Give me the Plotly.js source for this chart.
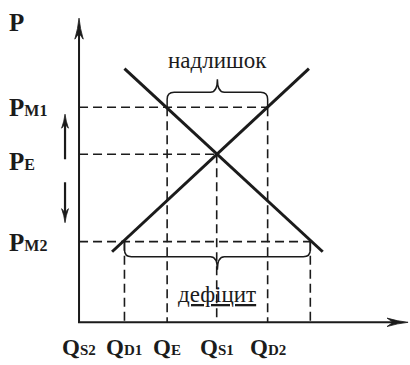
<!DOCTYPE html>
<html>
<head>
<meta charset="utf-8">
<script src="https://cdn.plot.ly/plotly-3.0.1.min.js"></script>
</head>
<body style="margin:0;background:#fff">
<div id="chart"></div>
<script>
// Price levels: market price above equilibrium, equilibrium, market price below
const priceNames  = ['PM1', 'PE', 'PM2'];
const priceValues = [12.8, 10, 4.8];
const priceLabels = [
  '<b>P<span style="font-size:16px">M1</span></b>',
  '<b>P<span style="font-size:16px">E</span></b>',
  '<b>P<span style="font-size:16px">M2</span></b>'
];

// Demand and supply curves (quantity, price) end points
const demandQ = [3.3, 17.7];
const demandP = [15.1, 4.2];
const supplyQ = [2.4, 16.7];
const supplyP = [4.2, 15.1];

// Quantities where each price level meets demand and supply (PM1, PE, PM2)
const demandQAtPrice = [6.4, 10, 16.8];
const supplyQAtPrice = [13.7, 10, 3.3];

// Quantity axis labels
const qTickValues = [0, supplyQAtPrice[2], demandQAtPrice[0], demandQAtPrice[1], supplyQAtPrice[0]];
const qTickLabels = [
  '<b>Q<span style="font-size:15px">S2</span></b>',
  '<b>Q<span style="font-size:15px">D1</span></b>',
  '<b>Q<span style="font-size:15px">E</span></b>',
  '<b>Q<span style="font-size:15px">S1</span></b>',
  '<b>Q<span style="font-size:15px">D2</span></b>'
];

const surplusText  = 'надлишок';
const shortageText = '<u>дефіцит</u>';

// ---- geometry of the drawing area ----
const W = 410, H = 365;
const xRange = [-5.74, 24.04];
const yRange = [-2.54, 19.18];
const kx = W / (xRange[1] - xRange[0]);   // px per quantity unit
const ky = H / (yRange[1] - yRange[0]);   // px per price unit
const axisEndQ = 23.9;
const axisTopP = 18.1;

const INK = '#1b1b1b';

// ---- traces ----
const traces = [];

// axes
traces.push({
  x: [0, 0, axisEndQ - 10 / kx],
  y: [axisTopP - 10 / ky, 0, 0],
  mode: 'lines', line: { color: INK, width: 2 }, hoverinfo: 'skip'
});

// dashed guide lines for every price level
const dx = [], dy = [];
priceValues.forEach((p, i) => {
  const qd = demandQAtPrice[i], qs = supplyQAtPrice[i];
  dx.push(0, Math.max(qd, qs), null); dy.push(p, p, null);
  dx.push(qd, qd, null); dy.push(p, 0, null);
  if (qs !== qd) { dx.push(qs, qs, null); dy.push(p, 0, null); }
});
traces.push({
  x: dx, y: dy, mode: 'lines', connectgaps: false,
  line: { color: INK, width: 1.6, dash: '9px,5px' }, hoverinfo: 'skip'
});

// demand and supply
traces.push({ x: demandQ, y: demandP, mode: 'lines', line: { color: INK, width: 3 }, hoverinfo: 'skip' });
traces.push({ x: supplyQ, y: supplyP, mode: 'lines', line: { color: INK, width: 3 }, hoverinfo: 'skip' });

// ---- shapes ----
const shapes = [];

// narrow barbed arrow head, tip at (q, p); drawn in pixel units
function arrowHead(q, p, dir, len, hw, notch) {
  const rot = {
    up:    ([x, y]) => [x, y],
    down:  ([x, y]) => [x, -y],
    right: ([x, y]) => [y, -x]
  }[dir];
  const pt = (x, y) => rot([x, y]).map(v => v.toFixed(2)).join(',');
  const path =
    'M' + pt(0, 0) +
    ' Q' + pt(-hw * 0.25, -len * 0.5) + ' ' + pt(-hw, -len) +
    ' L' + pt(0, -notch) +
    ' L' + pt(hw, -len) +
    ' Q' + pt(hw * 0.25, -len * 0.5) + ' ' + pt(0, 0) + ' Z';
  return {
    type: 'path', xref: 'x', yref: 'y',
    xsizemode: 'pixel', ysizemode: 'pixel', xanchor: q, yanchor: p,
    path: path, fillcolor: INK, line: { color: INK, width: 0.8 }
  };
}
shapes.push(arrowHead(0, axisTopP, 'up', 21, 4.2, 15));
shapes.push(arrowHead(axisEndQ, 0, 'right', 21, 4.2, 15));

// curly brace between q1 and q2 at price p; s = +1 tip up, -1 tip down
function brace(q1, q2, p, s) {
  const w = (q2 - q1) * kx;
  const h = 15, r = 7, t = 13, c = 7;
  const m = w / 2;
  const f = v => v.toFixed(2);
  const path =
    `M0,0 L0,${f(s * (h - r))} Q0,${f(s * h)} ${r},${f(s * h)}` +
    ` L${f(m - c)},${f(s * h)} Q${f(m)},${f(s * h)} ${f(m)},${f(s * (h + t))}` +
    ` Q${f(m)},${f(s * h)} ${f(m + c)},${f(s * h)}` +
    ` L${f(w - r)},${f(s * h)} Q${f(w)},${f(s * h)} ${f(w)},${f(s * (h - r))} L${f(w)},0`;
  return {
    type: 'path', xref: 'x', yref: 'y',
    xsizemode: 'pixel', ysizemode: 'pixel', xanchor: q1, yanchor: p,
    path: path, fillcolor: 'rgba(0,0,0,0)', line: { color: INK, width: 1.5 }
  };
}
shapes.push(brace(demandQAtPrice[0], supplyQAtPrice[0], priceValues[0], 1));
shapes.push(brace(supplyQAtPrice[2], demandQAtPrice[2], priceValues[2], -1));

// price movement arrows beside the price axis
function sideArrow(pFrom, pTo) {
  const dir = pTo > pFrom ? 'up' : 'down';
  const back = (dir === 'up' ? -1 : 1) * 9 / ky;
  shapes.push({
    type: 'line', xref: 'x', yref: 'y', xsizemode: 'pixel', xanchor: 0,
    x0: -14, x1: -14, y0: pFrom, y1: pTo + back,
    line: { color: INK, width: 2.2 }
  });
  shapes.push(arrowHead(-14 / kx, pTo, dir, 14, 3.4, 10));
}
sideArrow(priceValues[1] - 5 / ky, priceValues[0] - 7 / ky);
sideArrow(priceValues[1] - 28 / ky, priceValues[2] + 19 / ky);

// ---- annotations ----
const annotations = [];

annotations.push({
  xref: 'paper', x: 7 / W, xanchor: 'left',
  yref: 'y', y: axisTopP, yanchor: 'middle', yshift: -4,
  text: '<b>P</b>', showarrow: false,
  font: { family: 'Liberation Serif', size: 25, color: INK }
});
const priceShift = [0, -7, -1];
priceValues.forEach((p, i) => {
  annotations.push({
    xref: 'paper', x: 7 / W, xanchor: 'left',
    yref: 'y', y: p, yanchor: 'middle', yshift: priceShift[i],
    text: priceLabels[i], showarrow: false,
    font: { family: 'Liberation Serif', size: 25, color: INK }
  });
});
qTickValues.forEach((q, i) => {
  annotations.push({
    xref: 'x', x: q, xanchor: 'center',
    yref: 'y', y: 0, yanchor: 'middle', yshift: -25,
    text: qTickLabels[i], showarrow: false,
    font: { family: 'Liberation Serif', size: 23, color: INK }
  });
});
annotations.push({
  xref: 'x', x: (demandQAtPrice[0] + supplyQAtPrice[0]) / 2, xanchor: 'center',
  yref: 'y', y: priceValues[0], yanchor: 'middle', yshift: 47,
  text: surplusText, showarrow: false,
  font: { family: 'Liberation Serif', size: 23, color: INK }
});
annotations.push({
  xref: 'x', x: (supplyQAtPrice[2] + demandQAtPrice[2]) / 2, xanchor: 'center',
  yref: 'y', y: priceValues[2], yanchor: 'middle', yshift: -53,
  text: shortageText, showarrow: false,
  font: { family: 'Liberation Serif', size: 23, color: INK }
});

const layout = {
  width: W, height: H,
  margin: { l: 0, r: 0, t: 0, b: 0, pad: 0 },
  paper_bgcolor: '#fff', plot_bgcolor: '#fff',
  showlegend: false,
  xaxis: { range: xRange, visible: false, fixedrange: true },
  yaxis: { range: yRange, visible: false, fixedrange: true },
  shapes: shapes,
  annotations: annotations
};

Plotly.newPlot('chart', traces, layout, { staticPlot: true, displayModeBar: false });
</script>
</body>
</html>
